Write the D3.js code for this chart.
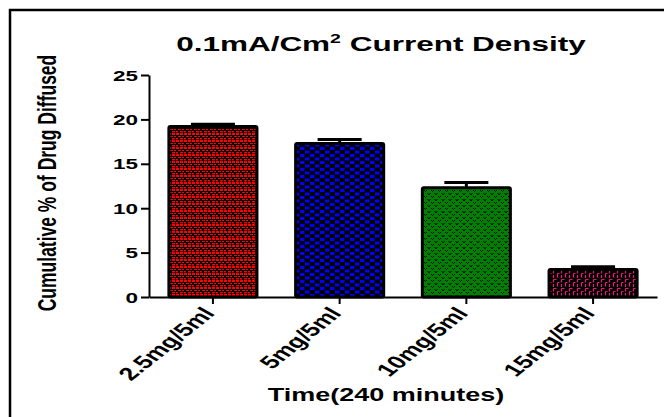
<!DOCTYPE html>
<meta charset="utf-8">
<script src="https://cdn.jsdelivr.net/npm/d3@7"></script>
<style>
  body { margin: 0; background: #fff; }
  text { font-family: "Liberation Sans", Arial, sans-serif; font-weight: bold; fill: #000; }
</style>
<div id="viz"></div>
<script>

// data
var groups = ["2.5mg/5ml", "5mg/5ml", "10mg/5ml", "15mg/5ml"];
var means  = [19.2, 17.3, 12.3, 3.1];
var errors = [0.25, 0.45, 0.6, 0.3];
var yTicks = [0, 5, 10, 15, 20, 25];
var patternIds = ["pRed", "pBlue", "pGreen", "pPink"];

var W = 664, H = 417,
    sx = 1.5;   // the original text is stretched sideways

var svg = d3.select("#viz")
  .append("svg")
    .attr("width", W)
    .attr("height", H);

var defs = svg.append("defs");

// red: small red dashes on black
var pr = defs.append("pattern").attr("id", "pRed")
  .attr("patternUnits", "userSpaceOnUse").attr("width", 8).attr("height", 7);
pr.append("rect").attr("width", 8).attr("height", 7).attr("fill", "#000");
[[0,0,3,2],[4,0,3,2],[2,3,3,1],[6,3,2,1],[0,5,2,1.5],[4,5,3,1.5]].forEach(function(r) {
  pr.append("rect").attr("x", r[0]).attr("y", r[1]).attr("width", r[2]).attr("height", r[3]).attr("fill", "#ff0000");
});

// blue: checkerboard
var pb = defs.append("pattern").attr("id", "pBlue")
  .attr("patternUnits", "userSpaceOnUse").attr("width", 10).attr("height", 7);
pb.append("rect").attr("width", 10).attr("height", 7).attr("fill", "#000");
pb.append("rect").attr("x", 0).attr("y", 0).attr("width", 4.5).attr("height", 3).attr("fill", "#0000ff");
pb.append("rect").attr("x", 5).attr("y", 3.5).attr("width", 4.5).attr("height", 3).attr("fill", "#0000ff");

// green: black small v marks on green
var pg = defs.append("pattern").attr("id", "pGreen")
  .attr("patternUnits", "userSpaceOnUse").attr("width", 7).attr("height", 6);
pg.append("rect").attr("width", 7).attr("height", 6).attr("fill", "#008000");
pg.append("path").attr("d", "M0.5,1 L2,3 L3.5,1 M4,4 L5.5,5.5 L7,4")
  .attr("fill", "none").attr("stroke", "#000").attr("stroke-width", 1);

// pink: dashed lines on black
var pp = defs.append("pattern").attr("id", "pPink")
  .attr("patternUnits", "userSpaceOnUse").attr("width", 8).attr("height", 9);
pp.append("rect").attr("width", 8).attr("height", 9).attr("fill", "#000");
pp.append("path").attr("d", "M1.5,0.5 v3 M1.5,5 v3 M1.5,0.5 h3 M5.5,3.5 v4 M5.5,3.5 h2")
  .attr("fill", "none").attr("stroke", "#f0167a").attr("stroke-width", 1.2);

// outer frame
svg.append("path")
  .attr("d", "M10,417 V10 H664")
  .attr("fill", "none").attr("stroke", "#000").attr("stroke-width", 2.5);

var x = d3.scaleBand()
  .domain(groups)
  .range([149, 657])
  .paddingInner(0.305)
  .paddingOuter(0.157);

var y = d3.scaleLinear()
  .domain([0, 25])
  .range([297, 75]);

// y axis
var gy = svg.append("g")
  .attr("transform", "translate(149,0)")
  .call(d3.axisLeft(y).tickValues(yTicks).tickSize(8).tickSizeOuter(0));
gy.select(".domain").attr("stroke-width", 2);
gy.selectAll(".tick line").attr("stroke-width", 2);
gy.selectAll(".tick text")
  .attr("x", null).attr("dy", null)
  .attr("transform", "translate(-11,5) scale(" + sx + ",1)")
  .style("font-size", "15px")
  .style("font-family", "'Liberation Sans', Arial, sans-serif")
  .style("font-weight", "bold");

// bars
svg.append("g").selectAll("rect")
  .data(groups)
  .enter().append("rect")
    .attr("x", function(d) { return x(d); })
    .attr("y", function(d, i) { return y(means[i]); })
    .attr("width", x.bandwidth())
    .attr("height", function(d, i) { return y(0) - y(means[i]); })
    .attr("rx", 1.5)
    .attr("fill", function(d, i) { return "url(#" + patternIds[i] + ")"; })
    .attr("stroke", "#000")
    .attr("stroke-width", 3);

// error bars (upper only)
var eb = svg.append("g").selectAll("g")
  .data(groups)
  .enter().append("g");
eb.append("line")
  .attr("x1", function(d) { return x(d) + x.bandwidth() / 2; })
  .attr("x2", function(d) { return x(d) + x.bandwidth() / 2; })
  .attr("y1", function(d, i) { return y(means[i]); })
  .attr("y2", function(d, i) { return y(means[i] + errors[i]); })
  .attr("stroke", "#000").attr("stroke-width", 3);
eb.append("line")
  .attr("x1", function(d) { return x(d) + x.bandwidth() / 4; })
  .attr("x2", function(d) { return x(d) + x.bandwidth() * 3 / 4; })
  .attr("y1", function(d, i) { return y(means[i] + errors[i]); })
  .attr("y2", function(d, i) { return y(means[i] + errors[i]); })
  .attr("stroke", "#000").attr("stroke-width", 3);

// x axis
var gx = svg.append("g")
  .attr("transform", "translate(0,297)")
  .call(d3.axisBottom(x).tickSize(7).tickSizeOuter(0));
gx.select(".domain").attr("stroke-width", 2);
gx.selectAll(".tick line").attr("stroke-width", 2);
gx.selectAll(".tick text")
  .attr("y", null).attr("dy", null)
  .attr("text-anchor", "end")
  .attr("transform", "translate(3,17) scale(" + sx + ",1) rotate(-50)")
  .style("font-size", "18px")
  .style("font-family", "'Liberation Sans', Arial, sans-serif")
  .style("font-weight", "bold");

// title
var title = svg.append("text")
  .attr("text-anchor", "middle")
  .attr("transform", "translate(381,51) scale(" + sx + ",1)")
  .style("font-size", "21px");
title.append("tspan").text("0.1mA/Cm");
title.append("tspan").text("2").attr("dy", -8).style("font-size", "13px");
title.append("tspan").text(" Current Density").attr("dy", 8);

// axis titles
svg.append("text")
  .attr("text-anchor", "middle")
  .attr("transform", "translate(386,401) scale(" + sx + ",1)")
  .style("font-size", "18px")
  .text("Time(240 minutes)");

svg.append("text")
  .attr("text-anchor", "middle")
  .attr("transform", "translate(56,183) scale(" + sx + ",1) rotate(-90)")
  .style("font-size", "17.5px")
  .text("Cumulative % of Drug Diffused");

</script>
